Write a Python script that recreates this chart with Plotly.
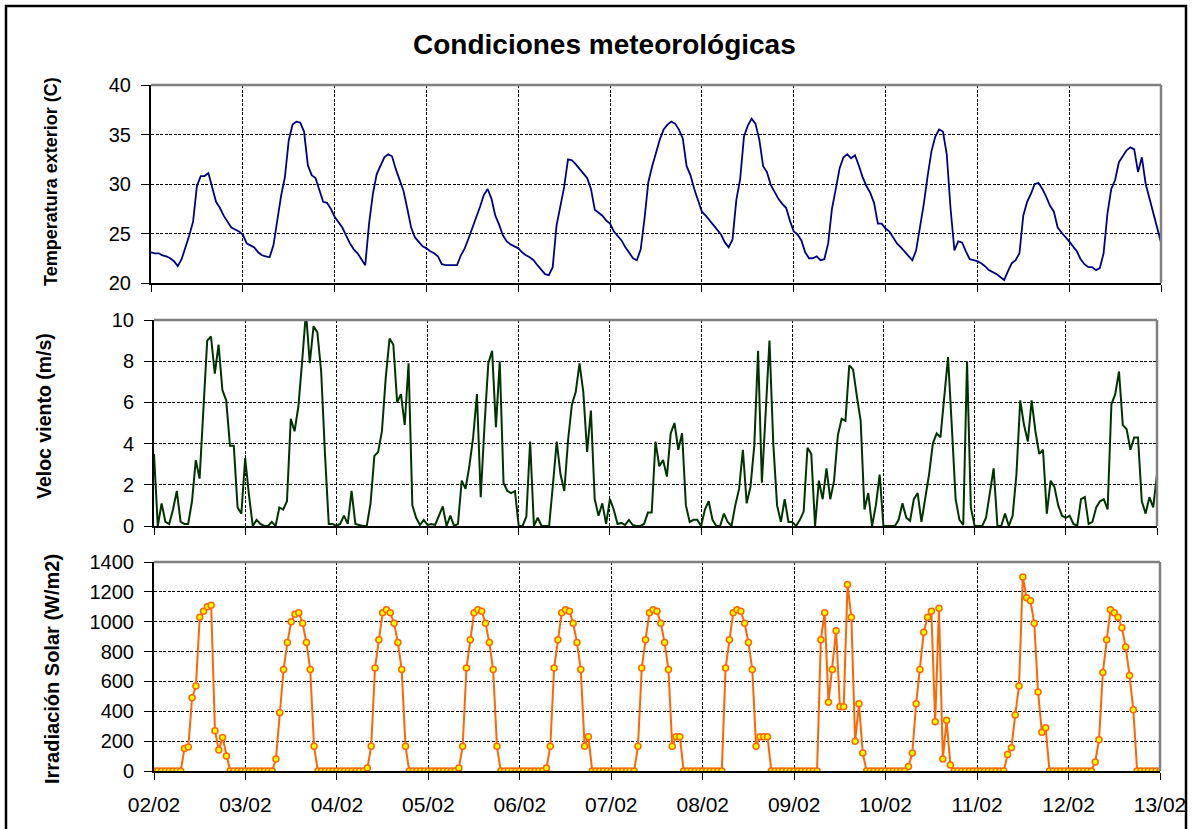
import pandas as pd
import plotly.graph_objects as go

# ---------------- data (hourly) ----------------
day_labels = ["02/02", "03/02", "04/02", "05/02", "06/02", "07/02",
              "08/02", "09/02", "10/02", "11/02", "12/02", "13/02"]
start_date = "2000-02-02 00:00"

temperature = [
    # 02/02
    23.1, 23.0, 23.0, 22.8, 22.7, 22.5, 22.2, 21.7, 22.4, 23.5, 24.8, 26.2,
    29.8, 30.8, 30.8, 31.1, 29.5, 28.2, 27.6, 26.8, 26.2, 25.6, 25.4, 25.2,
    # 03/02
    24.9, 24.0, 23.8, 23.6, 23.1, 22.8, 22.7, 22.6, 23.8, 26.5, 28.8, 30.7,
    34.4, 36.0, 36.3, 36.2, 35.3, 31.9, 30.9, 30.6, 29.5, 28.2, 28.1, 27.5,
    # 04/02
    26.7, 26.2, 25.6, 24.8, 24.0, 23.4, 23.0, 22.4, 21.8, 26.0, 29.0, 31.0,
    31.8, 32.7, 33.0, 32.8, 31.5, 30.5, 29.3, 27.5, 25.6, 24.6, 24.2, 23.7,
    # 05/02
    23.5, 23.2, 23.0, 22.7, 21.9, 21.8, 21.8, 21.8, 21.8, 22.8, 23.5, 24.5,
    25.5, 26.5, 27.7, 28.9, 29.5, 28.5, 26.8, 25.9, 24.8, 24.2, 23.9, 23.7,
    # 06/02
    23.5, 23.1, 22.8, 22.6, 22.3, 21.8, 21.4, 20.9, 20.8, 21.6, 25.8, 27.6,
    29.7, 32.5, 32.4, 32.0, 31.5, 31.0, 30.6, 29.5, 27.4, 27.1, 26.8, 26.3,
    # 07/02
    26.0, 25.2, 24.8, 24.3, 23.6, 23.0, 22.5, 22.3, 23.4, 26.5, 30.2, 31.8,
    33.3, 34.5, 35.5, 36.0, 36.3, 36.1, 35.5, 34.6, 31.8, 30.9, 29.5, 28.3,
    # 08/02
    27.2, 26.8, 26.3, 25.8, 25.3, 24.9, 24.1, 23.6, 24.4, 28.4, 30.5, 34.8,
    35.9, 36.6, 36.1, 34.5, 31.8, 31.2, 29.9, 29.2, 28.5, 28.0, 27.6, 26.3,
    # 09/02
    25.2, 24.9, 24.3, 23.1, 22.5, 22.5, 22.7, 22.3, 22.4, 24.0, 27.5, 29.5,
    31.6, 32.7, 33.0, 32.6, 32.9, 31.9, 30.7, 29.8, 29.1, 28.1, 26.0, 26.0,
    # 10/02
    25.5, 25.2, 24.6, 24.0, 23.6, 23.2, 22.8, 22.3, 23.3, 25.5, 28.0, 30.8,
    33.3, 34.8, 35.5, 35.3, 33.0, 27.5, 23.3, 24.2, 24.1, 23.2, 22.4, 22.3,
    # 11/02
    22.2, 22.0, 21.7, 21.3, 21.1, 20.9, 20.6, 20.3, 21.2, 22.0, 22.3, 23.0,
    26.8, 28.2, 29.0, 30.0, 30.1, 29.5, 28.7, 27.8, 27.2, 25.6, 25.1, 24.7,
    # 12/02
    24.2, 23.7, 23.2, 22.4, 21.9, 21.6, 21.6, 21.3, 21.5, 23.0, 27.0, 29.5,
    30.4, 32.2, 32.8, 33.4, 33.7, 33.5, 31.2, 32.7, 30.0, 28.5, 26.9, 25.4,
    # 13/02 00:00
    24.1,
]

wind_speed = [
    # 02/02
    3.5, 0.0, 1.1, 0.2, 0.1, 0.8, 1.7, 0.2, 0.1, 0.1, 1.2, 3.2,
    2.3, 6.0, 9.0, 9.2, 7.4, 8.8, 6.6, 6.1, 3.9, 3.9, 0.9, 0.6,
    # 03/02
    3.3, 1.5, 0.0, 0.3, 0.1, 0.0, 0.0, 0.2, 0.0, 0.9, 0.8, 1.2,
    5.2, 4.6, 5.8, 8.0, 10.4, 7.9, 9.7, 9.4, 7.5, 3.5, 0.1, 0.1,
    # 04/02
    0.0, 0.1, 0.5, 0.1, 1.7, 0.1, 0.05, 0.0, 0.0, 1.1, 3.4, 3.6,
    4.6, 7.2, 9.1, 8.8, 6.0, 6.4, 4.9, 7.9, 1.0, 0.4, 0.05, 0.3,
    # 05/02
    0.05, 0.1, 0.05, 0.5, 0.95, 0.0, 0.5, 0.0, 0.1, 2.2, 1.8, 2.9,
    4.3, 6.4, 1.4, 4.9, 7.9, 8.5, 4.8, 8.0, 2.1, 1.7, 1.6, 1.7,
    # 06/02
    0.0, 0.0, 0.45, 4.1, 0.0, 0.4, 0.0, 0.0, 0.0, 2.0, 4.1, 2.5,
    1.7, 4.2, 5.9, 6.5, 7.9, 6.5, 3.6, 5.6, 1.3, 0.5, 1.1, 0.1,
    # 07/02
    1.3, 0.8, 0.1, 0.15, 0.05, 0.3, 0.05, 0.0, 0.0, 0.1, 0.65, 0.65,
    4.1, 2.9, 3.2, 2.4, 4.5, 5.0, 3.7, 4.5, 1.0, 0.2, 0.3, 0.3,
    # 08/02
    0.0, 0.8, 1.2, 0.3, 0.0, 0.0, 0.6, 0.2, 0.0, 1.0, 1.8, 3.7,
    1.1, 1.9, 3.9, 8.5, 2.1, 5.5, 9.0, 4.0, 1.0, 0.2, 1.3, 0.2,
    # 09/02
    0.2, 0.0, 0.3, 0.7, 3.8, 3.5, 0.0, 2.2, 1.3, 2.8, 1.3, 2.2,
    4.4, 5.2, 5.1, 7.8, 7.6, 6.3, 5.1, 0.8, 1.6, 0.0, 1.0, 2.5,
    # 10/02
    0.0, 0.0, 0.0, 0.0, 0.3, 1.1, 0.4, 0.25, 1.3, 1.6, 0.2, 1.3,
    2.5, 4.0, 4.5, 4.3, 6.2, 8.2, 4.8, 1.3, 0.3, 0.05, 8.0, 0.9,
    # 11/02
    0.0, 0.0, 0.0, 0.4, 1.5, 2.8, 0.0, 0.0, 0.6, 0.0, 0.5, 2.5,
    6.1, 4.9, 4.1, 6.1, 4.6, 3.5, 3.7, 0.6, 2.2, 1.9, 1.0, 0.5,
    # 12/02
    0.4, 0.5, 0.1, 0.0, 1.3, 1.4, 0.1, 0.2, 0.9, 1.2, 1.3, 0.8,
    5.9, 6.4, 7.5, 4.9, 4.7, 3.7, 4.3, 4.3, 1.2, 0.6, 1.4, 0.9,
    # 13/02 00:00
    2.5,
]

solar_irradiation = [
    # 02/02
    0, 0, 0, 0, 0, 0, 0, 0, 150, 160, 490, 570,
    1030, 1070, 1100, 1110, 270, 140, 225, 100, 0, 0, 0, 0,
    # 03/02
    0, 0, 0, 0, 0, 0, 0, 0, 80, 390, 680, 860,
    1000, 1050, 1060, 990, 860, 680, 165, 0, 0, 0, 0, 0,
    # 04/02
    0, 0, 0, 0, 0, 0, 0, 0, 20, 165, 690, 880,
    1060, 1080, 1060, 990, 860, 680, 165, 0, 0, 0, 0, 0,
    # 05/02
    0, 0, 0, 0, 0, 0, 0, 0, 20, 165, 690, 880,
    1060, 1080, 1070, 990, 860, 680, 165, 0, 0, 0, 0, 0,
    # 06/02
    0, 0, 0, 0, 0, 0, 0, 20, 165, 690, 880, 1060,
    1080, 1070, 990, 860, 680, 165, 230, 0, 0, 0, 0, 0,
    # 07/02
    0, 0, 0, 0, 0, 0, 0, 165, 690, 880, 1060, 1080,
    1070, 990, 860, 680, 165, 230, 230, 0, 0, 0, 0, 0,
    # 08/02
    0, 0, 0, 0, 0, 0, 690, 880, 1060, 1080, 1070, 990,
    860, 680, 165, 230, 230, 230, 0, 0, 0, 0, 0, 0,
    # 09/02
    0, 0, 0, 0, 0, 0, 0, 880, 1060, 460, 680, 940,
    430, 430, 1250, 1030, 200, 450, 120, 0, 0, 0, 0, 0,
    # 10/02
    0, 0, 0, 0, 0, 0, 30, 120, 450, 680, 930, 1030,
    1070, 330, 1090, 80, 340, 40, 0, 0, 0, 0, 0, 0,
    # 11/02
    0, 0, 0, 0, 0, 0, 0, 0, 110, 155, 375, 570,
    1300, 1160, 1140, 990, 530, 260, 290, 0, 0, 0, 0, 0,
    # 12/02
    0, 0, 0, 0, 0, 0, 0, 60, 210, 660, 880, 1080,
    1060, 1030, 960, 830, 640, 410, 0, 0, 0, 0, 0, 0,
    # 13/02 00:00
    0,
]

title_text = "Condiciones meteorológicas"
y_titles = ["Temperatura exterior (C)", "Veloc viento (m/s)", "Irradiación Solar (W/m2)"]

# ---------------- layout helpers (pixels -> paper) ----------------
W, H = 1193, 829
FONT = "Arial, 'Liberation Sans', sans-serif"


def fx(px):
    return px / W


def fy(py):
    return 1 - py / H


panels = [
    dict(x0=151, x1=1161, y0=85, y1=283),
    dict(x0=154, x1=1157, y0=320, y1=526),
    dict(x0=154, x1=1160, y0=562, y1=771),
]
y_ranges = [[20, 40], [0, 10], [0, 1400]]
y_dticks = [5, 2, 200]

day_dates = pd.date_range(start_date, periods=len(day_labels), freq="D")
t_temp = pd.date_range(start_date, periods=len(temperature), freq="h")
t_wind = pd.date_range(start_date, periods=len(wind_speed), freq="h")
t_sol = pd.date_range(start_date, periods=len(solar_irradiation), freq="h")

fig = go.Figure()
fig.add_trace(go.Scatter(x=t_temp, y=temperature, mode="lines",
                         line=dict(color="#000080", width=1.8),
                         xaxis="x", yaxis="y", showlegend=False))
fig.add_trace(go.Scatter(x=t_wind, y=wind_speed, mode="lines",
                         line=dict(color="#003300", width=2),
                         xaxis="x2", yaxis="y2", showlegend=False))
fig.add_trace(go.Scatter(x=t_sol, y=solar_irradiation, mode="lines+markers",
                         line=dict(color="#FF6600", width=2),
                         marker=dict(symbol="circle", size=6, color="#FFFF00",
                                     line=dict(color="#FF6600", width=1.5)),
                         xaxis="x3", yaxis="y3", showlegend=False))

layout = dict(
    width=W, height=H, autosize=False,
    margin=dict(l=0, r=0, t=0, b=0, pad=0, autoexpand=False),
    paper_bgcolor="white", plot_bgcolor="white",
    font=dict(family=FONT, color="black"),
    showlegend=False,
)

grid_common = dict(showgrid=True, gridcolor="black", gridwidth=1, griddash="3px,1.5px",
                   zeroline=False, showline=True, linecolor="black", linewidth=2,
                   ticks="outside", tickcolor="black", tickwidth=1, automargin=False)

for i, p in enumerate(panels):
    sfx = "" if i == 0 else str(i + 1)
    layout["xaxis" + sfx] = dict(
        type="date", domain=[fx(p["x0"]), fx(p["x1"])], anchor="y" + sfx,
        range=[t_temp[0], t_temp[-1]],
        tickmode="array", tickvals=list(day_dates), ticktext=day_labels,
        showticklabels=(i == 2), ticklen=7,
        tickfont=dict(size=21, family=FONT, color="black"),
        ticklabelstandoff=7,
        **grid_common,
    )
    layout["yaxis" + sfx] = dict(
        domain=[fy(p["y1"]), fy(p["y0"])], anchor="x" + sfx,
        range=y_ranges[i], dtick=y_dticks[i], tick0=0, ticklen=8,
        tickfont=dict(size=20, family=FONT, color="black"),
        ticklabelstandoff=6,
        **grid_common,
    )

shapes = []
# gray plot-area border (top and right)
for p in panels:
    shapes.append(dict(type="line", xref="paper", yref="paper",
                       x0=fx(p["x0"]), x1=fx(p["x1"]), y0=fy(p["y0"]), y1=fy(p["y0"]),
                       line=dict(color="#808080", width=2.5), layer="above"))
    shapes.append(dict(type="line", xref="paper", yref="paper",
                       x0=fx(p["x1"]), x1=fx(p["x1"]), y0=fy(p["y0"]), y1=fy(p["y1"]),
                       line=dict(color="#808080", width=2.5), layer="above"))
# outer chart frame
shapes.append(dict(type="rect", xref="paper", yref="paper",
                   x0=fx(6), x1=fx(1186), y0=fy(840), y1=fy(6),
                   line=dict(color="black", width=2.5), fillcolor="rgba(0,0,0,0)",
                   layer="above"))
layout["shapes"] = shapes

annotations = [
    dict(text="<b>" + title_text + "</b>", xref="paper", yref="paper",
         x=fx(604), y=fy(45), xanchor="center", yanchor="middle", showarrow=False,
         font=dict(size=28, family=FONT, color="black")),
]
ytitle_pos = [(51, 182, 18), (44, 416, 19.5), (52, 669, 20)]
for txt, (px, py, fs) in zip(y_titles, ytitle_pos):
    annotations.append(dict(text="<b>" + txt + "</b>", xref="paper", yref="paper",
                            x=fx(px), y=fy(py), xanchor="center", yanchor="middle",
                            textangle=-90, showarrow=False,
                            font=dict(size=fs, family=FONT, color="black")))
layout["annotations"] = annotations

fig.update_layout(**layout)

fig.write_html("out.html",
               config=dict(displayModeBar=False),
               post_script="document.body.style.margin='0';document.body.style.overflow='hidden';")
